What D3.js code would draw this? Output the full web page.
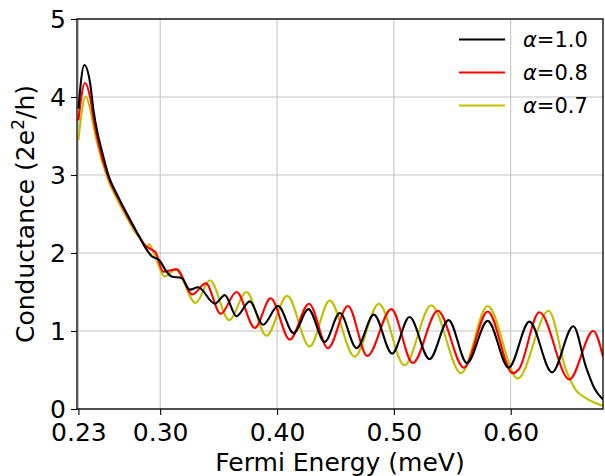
<!DOCTYPE html>
<html>
<head>
<meta charset="utf-8">
<script src="https://cdn.jsdelivr.net/npm/d3@7"></script>
<style>
    body { margin: 0; background: white; }
    text { font-family: "DejaVu Sans", sans-serif; fill: black; }
</style>
</head>
<body>
<svg class="chart" width="605" height="476"></svg>
<script>
// x ticks and y ticks
let xTicks = [0.23, 0.30, 0.40, 0.50, 0.60]
let yTicks = [0, 1, 2, 3, 4, 5]

// alpha = 1.0
let blackE = [0.2300, 0.2350, 0.2400, 0.2430, 0.2465, 0.2499, 0.2556, 0.2641, 0.2727, 0.2798, 0.2869, 0.2926, 0.2991,
    0.3055, 0.3097, 0.3183, 0.3254, 0.3325, 0.3468, 0.3553, 0.3653, 0.3767, 0.3880, 0.4009, 0.4143, 0.4268, 0.4408,
    0.4538, 0.4681, 0.4829, 0.4985, 0.5134, 0.5305, 0.5468, 0.5626, 0.5803, 0.5983, 0.6160, 0.6354, 0.6536, 0.6644,
    0.6715, 0.6790]
let blackG = [3.85, 4.41, 4.18, 3.82, 3.53, 3.32, 3.00, 2.72, 2.47, 2.27, 2.08, 1.96, 1.91,
    1.76, 1.70, 1.68, 1.53, 1.56, 1.35, 1.46, 1.19, 1.38, 1.08, 1.32, 0.97, 1.28, 0.86,
    1.23, 0.78, 1.21, 0.71, 1.18, 0.64, 1.14, 0.59, 1.13, 0.53, 1.12, 0.47, 1.06, 0.54,
    0.27, 0.12]

// alpha = 0.8
let redE = [0.2300, 0.2356, 0.2400, 0.2430, 0.2465, 0.2556, 0.2641, 0.2727, 0.2798, 0.2870, 0.2930, 0.2960, 0.3026,
    0.3140, 0.3275, 0.3390, 0.3518, 0.3653, 0.3810, 0.3945, 0.4109, 0.4274, 0.4436, 0.4607, 0.4773, 0.4978, 0.5162,
    0.5376, 0.5600, 0.5803, 0.6017, 0.6070, 0.6245, 0.6502, 0.6707, 0.6790]
let redG = [3.70, 4.18, 4.00, 3.72, 3.45, 2.97, 2.70, 2.45, 2.27, 2.10, 2.04, 2.01, 1.76,
    1.79, 1.47, 1.61, 1.22, 1.50, 1.04, 1.42, 0.89, 1.35, 0.78, 1.32, 0.68, 1.28, 0.59,
    1.26, 0.53, 1.25, 0.46, 0.51, 1.24, 0.38, 1.00, 0.67]

// alpha = 0.7
let yelE = [0.2300, 0.2362, 0.2400, 0.2430, 0.2465, 0.2556, 0.2641, 0.2727, 0.2798, 0.2841, 0.2875, 0.2906, 0.2950,
    0.3040, 0.3133, 0.3304, 0.3425, 0.3590, 0.3738, 0.3909, 0.4087, 0.4279, 0.4450, 0.4664, 0.4872, 0.5091, 0.5320,
    0.5576, 0.5803, 0.6060, 0.6325, 0.6474, 0.6559, 0.6644, 0.6790]
let yelG = [3.45, 4.01, 3.85, 3.62, 3.38, 2.93, 2.66, 2.42, 2.24, 2.17, 2.07, 2.11, 1.98,
    1.70, 1.79, 1.36, 1.65, 1.14, 1.50, 0.94, 1.45, 0.80, 1.39, 0.67, 1.35, 0.56, 1.33,
    0.46, 1.32, 0.39, 1.26, 0.50, 0.24, 0.14, 0.04]

let seriesNames = ["α=1.0", "α=0.8", "α=0.7"]
let seriesColors = ["#000000", "#ff0000", "#bfbf00"]

const margin = {top: 19, left: 77, right: 2, bottom: 67}
let width = 605
let height = 476

var svg = d3.select(".chart")

let xScale = d3.scaleLinear()
    .domain([0.2288, 0.679])
    .range([margin.left, width - margin.right])

let yScale = d3.scaleLinear()
    .domain([0, 5])
    .range([height - margin.bottom, margin.top])

let series = [
    blackE.map((e, i) => ({e: e, g: blackG[i]})),
    redE.map((e, i) => ({e: e, g: redG[i]})),
    yelE.map((e, i) => ({e: e, g: yelG[i]}))
]

// grid
svg.append("g")
    .selectAll("line.xgrid")
    .data(xTicks)
    .enter()
    .append("line")
    .attr("x1", d => xScale(d))
    .attr("x2", d => xScale(d))
    .attr("y1", yScale(0))
    .attr("y2", yScale(5))
    .attr("stroke", "#c4c4c4")
    .attr("stroke-width", 1.1)

svg.append("g")
    .selectAll("line.ygrid")
    .data(yTicks)
    .enter()
    .append("line")
    .attr("x1", xScale.range()[0])
    .attr("x2", xScale.range()[1])
    .attr("y1", d => yScale(d))
    .attr("y2", d => yScale(d))
    .attr("stroke", "#c4c4c4")
    .attr("stroke-width", 1.1)

// curves
let line = d3.line()
    .x(d => xScale(d.e))
    .y(d => yScale(d.g))
    .curve(d3.curveMonotoneX)

svg.append("defs").append("clipPath")
    .attr("id", "plot-clip")
    .append("rect")
    .attr("x", margin.left)
    .attr("y", margin.top)
    .attr("width", width - margin.left - margin.right)
    .attr("height", height - margin.top - margin.bottom)

// draw yellow first so black ends on top
svg.append("g")
    .attr("clip-path", "url(#plot-clip)")
    .selectAll("path.curve")
    .data([2, 1, 0])
    .enter()
    .append("path")
    .attr("d", i => line(series[i]))
    .attr("fill", "none")
    .attr("stroke", i => seriesColors[i])
    .attr("stroke-width", 2.1)

// axes
let xAxis = svg.append("g")
    .attr("transform", `translate(0, ${yScale(0)})`)
    .call(d3.axisBottom(xScale)
        .tickValues(xTicks)
        .tickFormat(d3.format(".2f"))
        .tickSize(6)
        .tickPadding(8))

let yAxis = svg.append("g")
    .attr("transform", `translate(${xScale.range()[0]}, 0)`)
    .call(d3.axisLeft(yScale)
        .tickValues(yTicks)
        .tickFormat(d3.format("d"))
        .tickSize(6)
        .tickPadding(5))

svg.selectAll(".domain").remove()
svg.selectAll(".tick line")
    .attr("stroke", "black")
    .attr("stroke-width", 1.1)
svg.selectAll(".tick text")
    .style("font-family", "DejaVu Sans")
    .style("font-size", "25px")
    .attr("fill", "black")

// frame
svg.append("rect")
    .attr("x", margin.left)
    .attr("y", margin.top)
    .attr("width", width - margin.left - margin.right)
    .attr("height", height - margin.top - margin.bottom)
    .attr("fill", "none")
    .attr("stroke", "black")
    .attr("stroke-width", 1.3)

// labels
svg.append("text")
    .attr("x", (margin.left + width - margin.right) / 2)
    .attr("y", 471)
    .attr("text-anchor", "middle")
    .style("font-size", "25px")
    .text("Fermi Energy (meV)")

let ylab = svg.append("text")
    .attr("transform", `translate(34, ${(margin.top + height - margin.bottom) / 2}) rotate(-90)`)
    .attr("text-anchor", "middle")
    .style("font-size", "25px")
ylab.append("tspan").text("Conductance (2e")
ylab.append("tspan").attr("dy", -10).style("font-size", "17px").text("2")
ylab.append("tspan").attr("dy", 10).text("/h)")

// legend
let legend = svg.append("g")
    .selectAll("g.leg")
    .data(seriesNames)
    .enter()
    .append("g")
    .attr("transform", (d, i) => `translate(0, ${39.5 + i * 33})`)

legend.append("line")
    .attr("x1", 459)
    .attr("x2", 505)
    .attr("stroke", (d, i) => seriesColors[i])
    .attr("stroke-width", 2.1)

let legText = legend.append("text")
    .attr("x", 523)
    .attr("y", 7.5)
    .style("font-size", "21px")
legText.append("tspan")
    .style("font-style", "italic")
    .text(d => d.slice(0, 1))
legText.append("tspan")
    .text(d => d.slice(1))
</script>
</body>
</html>
